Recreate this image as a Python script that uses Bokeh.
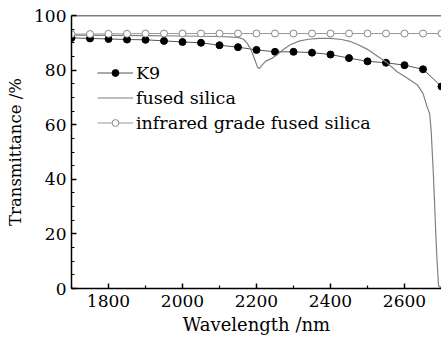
from bokeh.plotting import figure
from bokeh.models import FixedTicker, Legend, LegendItem, Range1d, Span
from bokeh.embed import file_html
from bokeh.resources import INLINE

# ---- data ----
k9_x = [1700, 1750, 1800, 1850, 1900, 1950, 2000, 2050, 2100, 2150, 2200,
        2250, 2300, 2350, 2400, 2450, 2500, 2550, 2600, 2650, 2700]
k9_y = [91.8, 91.6, 91.4, 91.2, 91.1, 90.7, 90.3, 90.0, 89.1, 88.4, 87.4,
        86.7, 86.7, 86.4, 85.7, 84.4, 83.2, 82.7, 81.8, 80.3, 74.0]

fs_x = [1700, 1800, 1900, 2000, 2100, 2150, 2165, 2175, 2185, 2195, 2203,
        2208, 2215, 2225, 2240, 2255, 2270, 2290, 2315, 2340, 2370, 2400,
        2430, 2455, 2475, 2500, 2525, 2550, 2580, 2610, 2635, 2650, 2660,
        2668, 2672, 2678, 2684, 2688, 2692, 2700]
fs_y = [92.8, 92.7, 92.6, 92.5, 92.3, 92.0, 91.3, 89.8, 87.5, 84.0, 81.0,
        80.6, 81.8, 83.3, 84.2, 85.5, 87.3, 89.2, 90.6, 91.3, 91.6, 91.6,
        91.2, 90.4, 89.3, 87.6, 85.3, 83.0, 79.4, 76.8, 74.5, 71.5, 67.0,
        64.0, 58.0, 42.0, 22.0, 10.0, 1.0, 0.0]

ir_x = k9_x
ir_y = [93.2, 93.2, 93.3, 93.3, 93.4, 93.4, 93.4, 93.4, 93.4, 93.4, 93.4,
        93.4, 93.4, 93.4, 93.4, 93.4, 93.4, 93.4, 93.4, 93.4, 93.4]

x_major = [1800, 2000, 2200, 2400, 2600]
x_minor = [1700, 1900, 2100, 2300, 2500, 2700]
y_major = [0, 20, 40, 60, 80, 100]
y_minor = [5, 10, 15, 25, 30, 35, 45, 50, 55, 65, 70, 75, 85, 90, 95]

FONT = "DejaVu Serif"

p = figure(frame_width=370, frame_height=273, output_backend="svg",
           toolbar_location=None, x_range=Range1d(1700, 2700),
           y_range=Range1d(0, 100), min_border_left=71, min_border_top=15,
           min_border_right=0, min_border_bottom=51)
p.outline_line_color = None
p.grid.visible = False
p.background_fill_color = "white"
p.border_fill_color = "white"

# series
ln_k9 = p.line(k9_x, k9_y, line_color="#555555", line_width=1)
mk_k9 = p.scatter(k9_x, k9_y, marker="circle", size=7, fill_color="black",
                  line_color="black")
ln_fs = p.line(fs_x, fs_y, line_color="#808080", line_width=1.2)
ln_ir = p.line(ir_x, ir_y, line_color="#999999", line_width=1)
mk_ir = p.scatter(ir_x, ir_y, marker="circle", size=7, fill_color="white",
                  line_color="#888888", line_width=1)

# axes styling
for ax in [p.xaxis[0], p.yaxis[0]]:
    ax.axis_line_color = "black"
    ax.axis_line_width = 1.5
    ax.major_tick_in = 5
    ax.major_tick_out = 0
    ax.minor_tick_in = 3
    ax.minor_tick_out = 0
    ax.major_tick_line_width = 1.5
    ax.minor_tick_line_width = 1.2
    ax.major_label_text_font = FONT
    ax.major_label_text_font_size = "17px"
    ax.major_label_text_color = "black"
    ax.axis_label_text_font = FONT
    ax.axis_label_text_font_style = "normal"
    ax.axis_label_text_color = "black"

p.xaxis[0].axis_label_text_font_size = "18px"
p.yaxis[0].axis_label_text_font_size = "16.5px"
p.xaxis[0].ticker = FixedTicker(ticks=x_major, minor_ticks=x_minor)
p.yaxis[0].ticker = FixedTicker(ticks=y_major, minor_ticks=y_minor)
p.xaxis[0].axis_label = "Wavelength /nm"
p.yaxis[0].axis_label = "Transmittance /%"
p.xaxis[0].axis_label_standoff = 4
p.yaxis[0].axis_label_standoff = 6
p.xaxis[0].major_label_standoff = 6
p.yaxis[0].major_label_standoff = 5

p.add_layout(Span(location=100, dimension="width", line_color="black",
                  line_width=1.5))

legend = Legend(items=[
    LegendItem(label="K9", renderers=[ln_k9, mk_k9]),
    LegendItem(label="fused silica", renderers=[ln_fs]),
    LegendItem(label="infrared grade fused silica", renderers=[ln_ir, mk_ir]),
], location=(26, 153))
legend.background_fill_alpha = 0
legend.border_line_color = None
legend.padding = 0
legend.margin = 0
legend.spacing = 0
legend.glyph_width = 36
legend.glyph_height = 17
legend.label_height = 25
legend.label_standoff = 3
legend.label_text_font = FONT
legend.label_text_font_size = "17.5px"
legend.label_text_color = "black"
p.add_layout(legend, "center")

open("out.html", "w").write(file_html(p, INLINE))
